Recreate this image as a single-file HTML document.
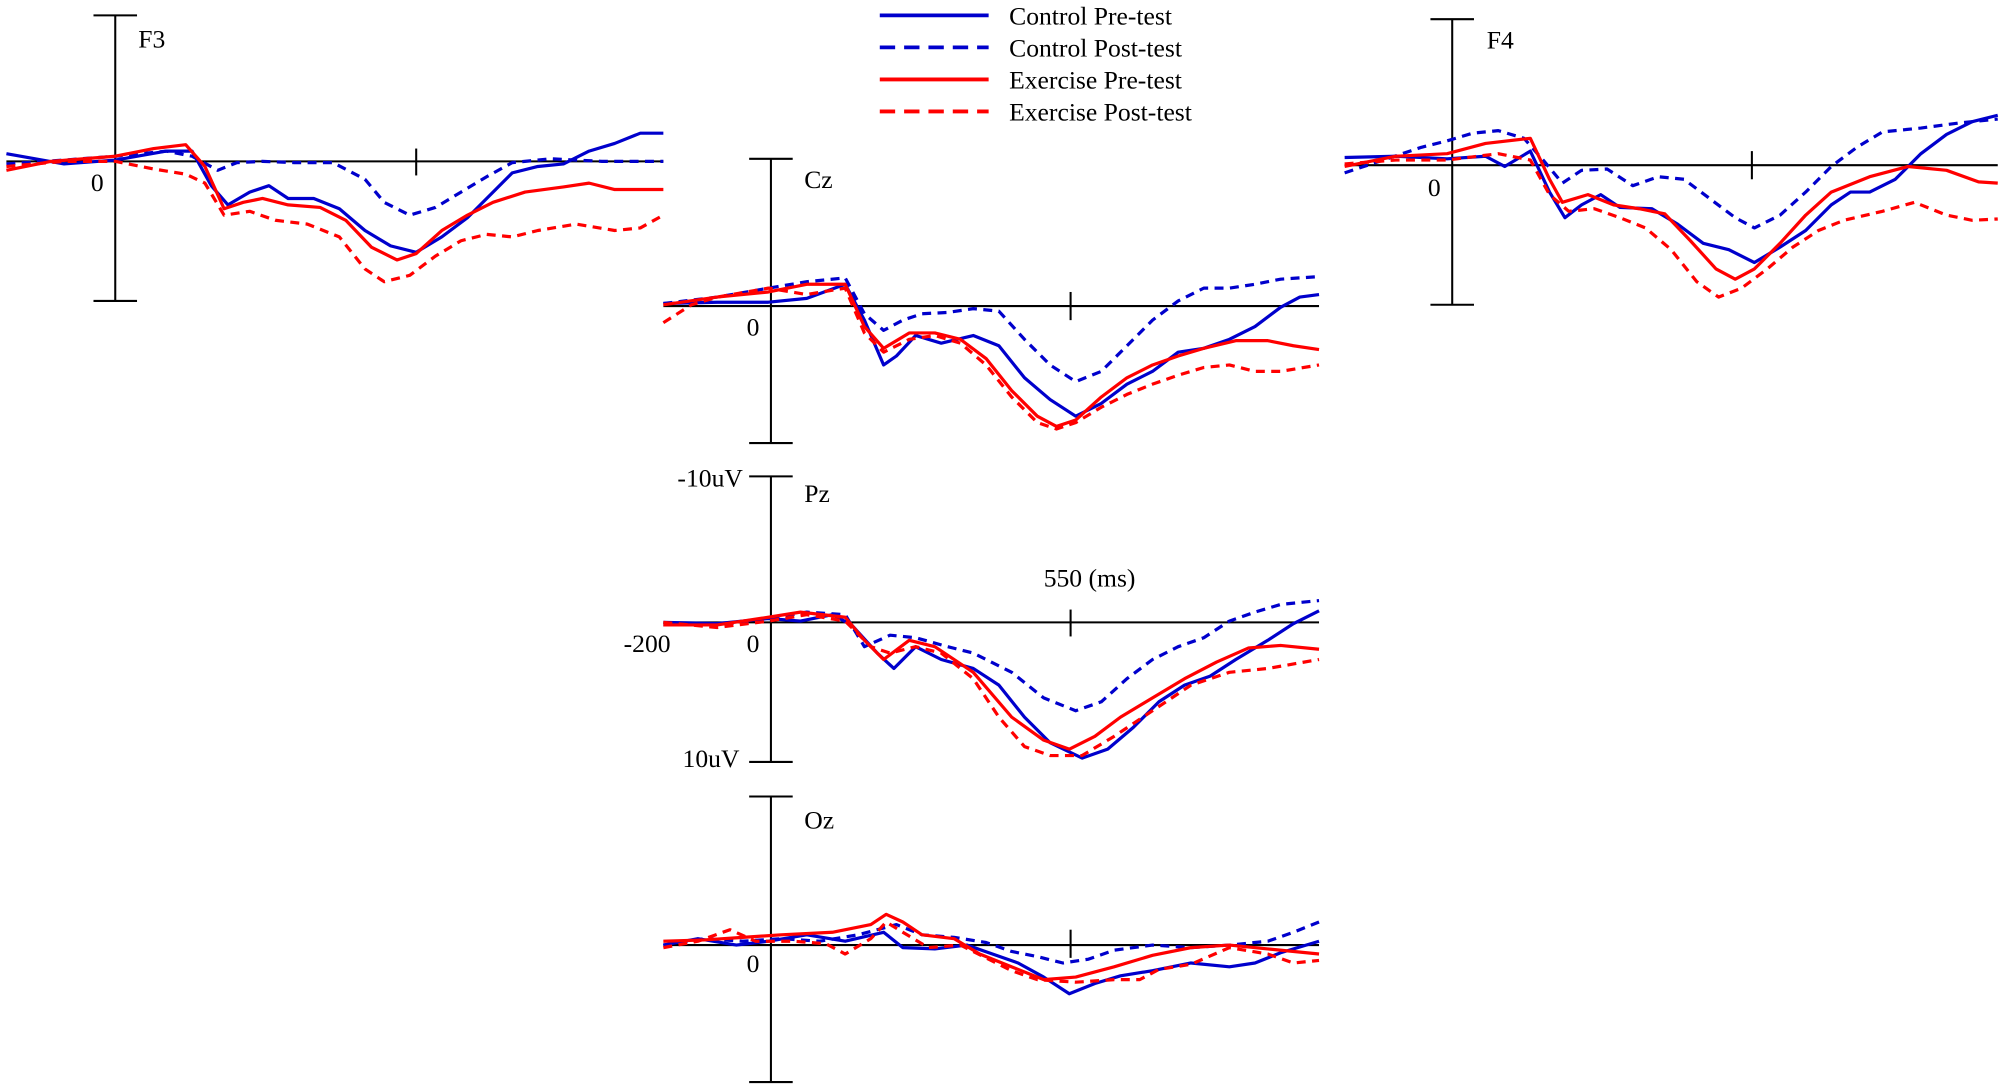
<!DOCTYPE html>
<html><head><meta charset="utf-8"><style>
html,body{margin:0;padding:0;background:#fff;}
svg{display:block;}
text{font-family:"Liberation Serif",serif;font-size:20px;fill:#000;}
</style></head><body>
<svg width="2008" height="1089" viewBox="0 0 1568 850.4" preserveAspectRatio="none" xmlns="http://www.w3.org/2000/svg">
<g stroke="#000" stroke-width="1.6" fill="none">
<line x1="90" y1="12" x2="90" y2="235"/><line x1="73" y1="12" x2="107" y2="12"/><line x1="73" y1="235" x2="107" y2="235"/>
<line x1="5" y1="126" x2="518" y2="126"/><line x1="325" y1="116" x2="325" y2="137"/>
<line x1="602" y1="124" x2="602" y2="346"/><line x1="585" y1="124" x2="619" y2="124"/><line x1="585" y1="346" x2="619" y2="346"/>
<line x1="518" y1="239" x2="1030" y2="239"/><line x1="836" y1="228" x2="836" y2="250"/>
<line x1="1134" y1="15" x2="1134" y2="238"/><line x1="1117" y1="15" x2="1151" y2="15"/><line x1="1117" y1="238" x2="1151" y2="238"/>
<line x1="1050" y1="129" x2="1560" y2="129"/><line x1="1368" y1="118" x2="1368" y2="140"/>
<line x1="602" y1="372" x2="602" y2="595"/><line x1="585" y1="372" x2="619" y2="372"/><line x1="585" y1="595" x2="619" y2="595"/>
<line x1="518" y1="486" x2="1030" y2="486"/><line x1="836" y1="476" x2="836" y2="497"/>
<line x1="602" y1="622" x2="602" y2="845"/><line x1="585" y1="622" x2="619" y2="622"/><line x1="585" y1="845" x2="619" y2="845"/>
<line x1="518" y1="738" x2="1030" y2="738"/><line x1="836" y1="726" x2="836" y2="748"/>
</g>
<text x="108" y="37">F3</text><text x="71" y="149">0</text>
<text x="628" y="147">Cz</text><text x="583" y="262">0</text>
<text x="1161" y="38">F4</text><text x="1115" y="153">0</text>
<text x="628" y="392">Pz</text><text x="583" y="509">0</text>
<text x="529" y="380">-10uV</text><text x="533" y="599">10uV</text><text x="487" y="509">-200</text>
<text x="815" y="458">550 (ms)</text>
<text x="628" y="647">Oz</text><text x="583" y="759">0</text>
<g stroke-width="3" fill="none">
<line x1="687" y1="12" x2="772" y2="12" stroke="#0000cc"/>
<line x1="687" y1="37" x2="772" y2="37" stroke="#0000cc" stroke-dasharray="12,7"/>
<line x1="687" y1="62" x2="772" y2="62" stroke="#ff0000"/>
<line x1="687" y1="87" x2="772" y2="87" stroke="#ff0000" stroke-dasharray="12,7"/>
</g>
<text x="788" y="19">Control Pre-test</text><text x="788" y="44">Control Post-test</text>
<text x="788" y="69">Exercise Pre-test</text><text x="788" y="94">Exercise Post-test</text>
<g fill="none" stroke-width="2.5" stroke-linejoin="round">
<polyline stroke="#0000cc" points="5,120 50,128 90,125 130,118 150,118 165,145 178,160 195,150 210,145 225,155 245,155 265,163 285,180 305,192 325,197 345,185 365,170 385,150 400,135 420,130 440,128 460,118 480,112 500,104 518,104"/>
<polyline stroke="#0000cc" stroke-dasharray="7,5" points="5,128 50,125 90,122 130,118 150,122 170,133 185,127 205,126 230,127 260,127 285,140 300,158 320,168 340,162 360,150 380,138 400,127 430,124 470,126 518,126"/>
<polyline stroke="#ff0000" points="5,133 40,126 90,122 120,116 145,113 160,130 175,163 190,158 205,155 225,160 250,162 270,172 290,193 310,203 325,198 345,180 365,168 385,158 410,150 440,146 460,143 480,148 518,148"/>
<polyline stroke="#ff0000" stroke-dasharray="7,5" points="5,130 50,126 90,126 120,132 145,136 160,143 175,168 195,165 215,172 240,175 265,185 285,210 300,220 320,215 340,200 360,188 380,183 400,185 420,180 450,175 480,180 500,178 518,168"/>
<polyline stroke="#0000cc" points="518,237 560,236 600,236 630,233 660,222 675,250 690,285 700,278 715,262 735,268 760,262 780,270 800,295 820,312 840,325 860,315 880,300 900,290 920,275 940,272 960,265 980,255 1000,240 1015,232 1030,230"/>
<polyline stroke="#0000cc" stroke-dasharray="7,5" points="518,237 560,232 600,225 630,220 660,217 675,245 690,258 705,250 720,245 740,244 760,241 780,243 800,265 820,285 840,298 860,290 880,270 900,250 920,235 940,225 960,225 980,222 1000,218 1030,216"/>
<polyline stroke="#ff0000" points="518,238 560,232 600,228 630,222 660,222 675,255 690,272 710,260 730,260 750,265 770,280 790,305 810,325 825,333 840,328 860,310 880,295 900,285 920,278 940,272 965,266 990,266 1010,270 1030,273"/>
<polyline stroke="#ff0000" stroke-dasharray="7,5" points="518,252 540,238 560,232 600,225 630,230 660,225 675,260 690,275 710,265 730,262 750,268 770,285 790,310 810,330 825,335 840,330 860,318 880,308 900,300 920,293 940,287 960,285 980,290 1000,290 1030,285"/>
<polyline stroke="#0000cc" points="1050,123 1090,122 1130,124 1160,122 1175,130 1195,118 1210,150 1222,170 1235,160 1250,152 1265,162 1290,163 1310,175 1330,190 1350,195 1370,205 1390,193 1410,180 1430,160 1445,150 1460,150 1480,140 1500,120 1520,105 1540,95 1560,90"/>
<polyline stroke="#0000cc" stroke-dasharray="7,5" points="1050,135 1080,125 1110,115 1130,110 1150,104 1170,102 1190,108 1205,125 1220,143 1235,133 1255,132 1275,145 1295,138 1315,140 1335,155 1355,170 1370,178 1390,168 1410,150 1430,130 1450,115 1470,103 1500,100 1530,96 1560,93"/>
<polyline stroke="#ff0000" points="1050,130 1090,122 1130,120 1160,112 1195,108 1210,140 1220,158 1240,152 1260,160 1280,163 1300,167 1320,188 1340,210 1355,218 1370,210 1390,190 1410,168 1430,150 1460,138 1490,130 1520,133 1545,142 1560,143"/>
<polyline stroke="#ff0000" stroke-dasharray="7,5" points="1050,128 1090,125 1130,125 1170,120 1195,125 1210,152 1225,165 1245,163 1265,170 1285,178 1305,195 1325,220 1342,232 1360,225 1380,210 1400,193 1420,180 1440,172 1470,165 1495,158 1520,168 1540,172 1560,171"/>
<polyline stroke="#0000cc" points="518,486 560,487 600,483 625,485 650,480 665,488 685,510 698,522 715,505 735,515 760,522 780,535 800,560 820,580 845,592 865,585 885,568 905,548 925,535 945,528 965,515 990,500 1010,487 1030,477"/>
<polyline stroke="#0000cc" stroke-dasharray="7,5" points="518,488 560,488 600,483 630,478 660,480 675,505 695,496 715,498 740,505 760,510 790,525 815,545 840,555 860,548 880,530 900,515 920,505 940,498 960,485 980,478 1000,472 1030,469"/>
<polyline stroke="#ff0000" points="518,488 560,488 600,482 625,478 660,482 675,500 690,515 710,500 730,505 760,525 790,560 815,578 835,585 855,575 875,560 900,545 925,530 950,517 975,506 1000,504 1030,507"/>
<polyline stroke="#ff0000" stroke-dasharray="7,5" points="518,486 560,490 600,485 630,480 660,485 680,505 695,510 715,505 735,510 760,530 780,560 800,583 820,590 845,590 870,575 900,555 930,535 960,525 990,522 1030,515"/>
<polyline stroke="#0000cc" points="518,738 545,733 575,738 600,735 630,730 660,735 690,728 705,740 730,741 755,738 775,745 795,752 815,763 835,776 855,768 875,762 900,758 930,752 960,755 980,752 1000,744 1030,735"/>
<polyline stroke="#0000cc" stroke-dasharray="7,5" points="518,738 550,733 580,735 610,733 640,735 670,730 700,722 720,730 745,732 770,736 790,743 810,747 830,752 850,749 870,742 900,738 930,740 960,738 990,735 1010,728 1030,720"/>
<polyline stroke="#ff0000" points="518,735 550,734 580,732 610,730 650,728 680,722 692,714 705,720 720,730 745,733 765,745 790,755 815,765 840,763 870,755 900,746 930,740 960,738 990,741 1030,745"/>
<polyline stroke="#ff0000" stroke-dasharray="7,5" points="518,740 545,735 570,726 590,735 620,735 645,737 660,745 680,733 692,720 705,728 725,740 750,738 770,748 790,758 810,765 840,767 870,765 890,765 905,757 930,753 960,740 990,745 1010,752 1030,750"/>
</g>
</svg>
</body></html>
